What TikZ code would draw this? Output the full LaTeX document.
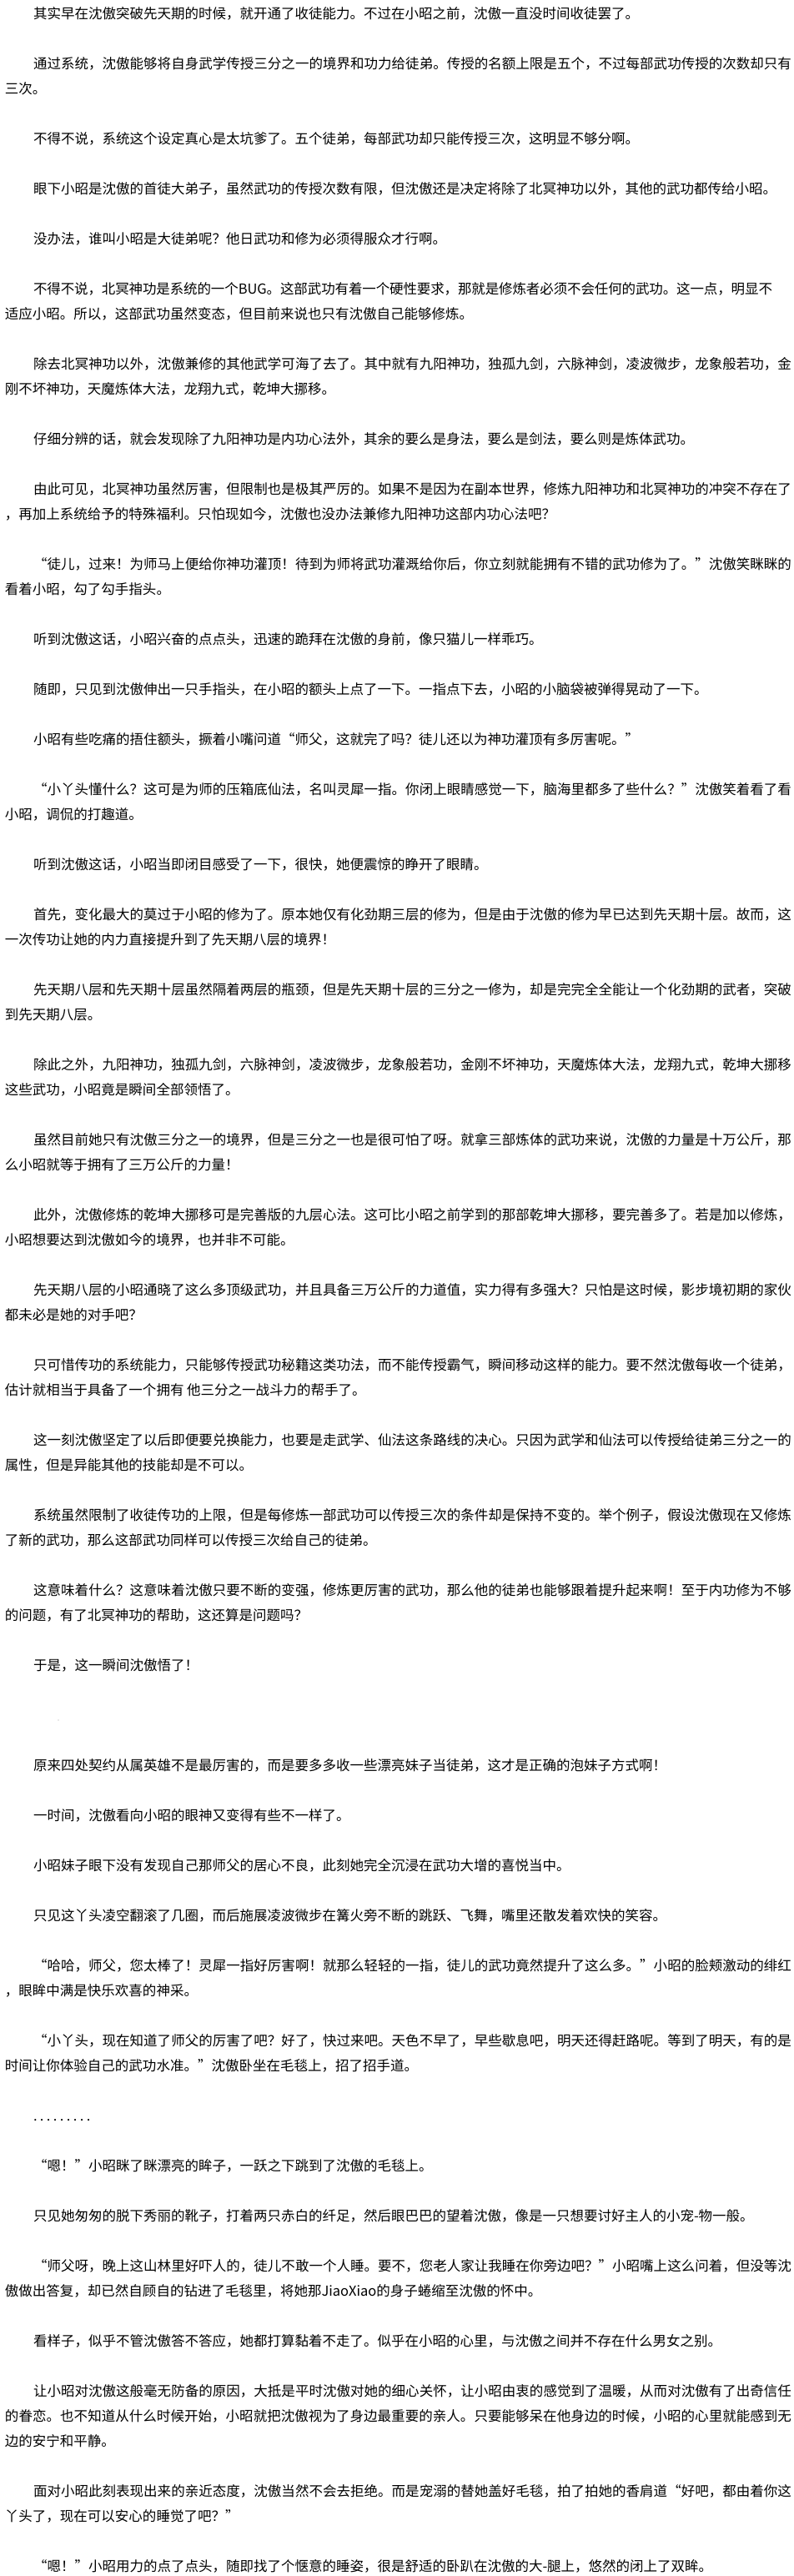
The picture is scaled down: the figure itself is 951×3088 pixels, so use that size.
\documentclass[tikz,border=0pt]{standalone}
\usepackage{fontspec}
\setmainfont{Noto Sans CJK SC}
\newfontfamily\qfont[RawFeature=+fwid]{Noto Sans CJK SC}
\newcommand\oq{{\qfont “}}
\newcommand\cq{{\qfont ”}}
\newcommand\pdot{\makebox[6pt][l]{.}}
\makeatletter
\newcommand\spr[1]{\spr@b#1\relax}
\def\spr@b#1{#1\spr@c}
\def\spr@c#1{\ifx\relax#1\else\hskip0pt plus 1fil minus 0.2pt #1\expandafter\spr@c\fi}
\makeatother
\newcommand\plainln[3]{\node[txt] (l#1) at (#2,{22+30*#1}) {#3};}
\newcommand\justln[4]{\node[txt] (l#1) at (#2,{22+30*#1}) {\hbox to #3{\spr{#4}}};}
\tikzset{txt/.style={anchor=base west, inner sep=0pt, outer sep=0pt, text=black,
  font=\fontsize{12.375pt}{15pt}\selectfont}}
\begin{document}
\begin{tikzpicture}[x=0.75pt,y=-0.75pt]
\useasboundingbox (0,0) rectangle (951,3088);
\fill[white] (0,0) rectangle (951,3088);
\plainln{0}{40}{其实早在沈傲突破先天期的时候，就开通了收徒能力。不过在小昭之前，沈傲一直没时间收徒罢了。}
\justln{2}{40}{681.75pt}{通过系统，沈傲能够将自身武学传授三分之一的境界和功力给徒弟。传授的名额上限是五个，不过每部武功传授的次数却只有}
\plainln{3}{6}{三次。}
\plainln{5}{40}{不得不说，系统这个设定真心是太坑爹了。五个徒弟，每部武功却只能传授三次，这明显不够分啊。}
\plainln{7}{40}{眼下小昭是沈傲的首徒大弟子，虽然武功的传授次数有限，但沈傲还是决定将除了北冥神功以外，其他的武功都传给小昭。}
\plainln{9}{40}{没办法，谁叫小昭是大徒弟呢？他日武功和修为必须得服众才行啊。}
\justln{11}{40}{664.5pt}{不得不说，北冥神功是系统的一个{BUG}。这部武功有着一个硬性要求，那就是修炼者必须不会任何的武功。这一点，明显不}
\plainln{12}{6}{适应小昭。所以，这部武功虽然变态，但目前来说也只有沈傲自己能够修炼。}
\justln{14}{40}{681.75pt}{除去北冥神功以外，沈傲兼修的其他武学可海了去了。其中就有九阳神功，独孤九剑，六脉神剑，凌波微步，龙象般若功，金}
\plainln{15}{6}{刚不坏神功，天魔炼体大法，龙翔九式，乾坤大挪移。}
\plainln{17}{40}{仔细分辨的话，就会发现除了九阳神功是内功心法外，其余的要么是身法，要么是剑法，要么则是炼体武功。}
\justln{19}{40}{681.75pt}{由此可见，北冥神功虽然厉害，但限制也是极其严厉的。如果不是因为在副本世界，修炼九阳神功和北冥神功的冲突不存在了}
\plainln{20}{6}{，再加上系统给予的特殊福利。只怕现如今，沈傲也没办法兼修九阳神功这部内功心法吧？}
\justln{22}{40}{681.75pt}{\oq 徒儿，过来！为师马上便给你神功灌顶！待到为师将武功灌溉给你后，你立刻就能拥有不错的武功修为了。\cq 沈傲笑眯眯的}
\plainln{23}{6}{看着小昭，勾了勾手指头。}
\plainln{25}{40}{听到沈傲这话，小昭兴奋的点点头，迅速的跪拜在沈傲的身前，像只猫儿一样乖巧。}
\plainln{27}{40}{随即，只见到沈傲伸出一只手指头，在小昭的额头上点了一下。一指点下去，小昭的小脑袋被弹得晃动了一下。}
\plainln{29}{40}{小昭有些吃痛的捂住额头，撅着小嘴问道\oq 师父，这就完了吗？徒儿还以为神功灌顶有多厉害呢。\cq}
\justln{31}{40}{681.75pt}{\oq 小丫头懂什么？这可是为师的压箱底仙法，名叫灵犀一指。你闭上眼睛感觉一下，脑海里都多了些什么？\cq 沈傲笑着看了看}
\plainln{32}{6}{小昭，调侃的打趣道。}
\plainln{34}{40}{听到沈傲这话，小昭当即闭目感受了一下，很快，她便震惊的睁开了眼睛。}
\justln{36}{40}{681.75pt}{首先，变化最大的莫过于小昭的修为了。原本她仅有化劲期三层的修为，但是由于沈傲的修为早已达到先天期十层。故而，这}
\plainln{37}{6}{一次传功让她的内力直接提升到了先天期八层的境界！}
\justln{39}{40}{681.75pt}{先天期八层和先天期十层虽然隔着两层的瓶颈，但是先天期十层的三分之一修为，却是完完全全能让一个化劲期的武者，突破}
\plainln{40}{6}{到先天期八层。}
\justln{42}{40}{681.75pt}{除此之外，九阳神功，独孤九剑，六脉神剑，凌波微步，龙象般若功，金刚不坏神功，天魔炼体大法，龙翔九式，乾坤大挪移}
\plainln{43}{6}{这些武功，小昭竟是瞬间全部领悟了。}
\justln{45}{40}{681.75pt}{虽然目前她只有沈傲三分之一的境界，但是三分之一也是很可怕了呀。就拿三部炼体的武功来说，沈傲的力量是十万公斤，那}
\plainln{46}{6}{么小昭就等于拥有了三万公斤的力量！}
\justln{48}{40}{681.75pt}{此外，沈傲修炼的乾坤大挪移可是完善版的九层心法。这可比小昭之前学到的那部乾坤大挪移，要完善多了。若是加以修炼，}
\plainln{49}{6}{小昭想要达到沈傲如今的境界，也并非不可能。}
\justln{51}{40}{681.75pt}{先天期八层的小昭通晓了这么多顶级武功，并且具备三万公斤的力道值，实力得有多强大？只怕是这时候，影步境初期的家伙}
\plainln{52}{6}{都未必是她的对手吧？}
\justln{54}{40}{681.75pt}{只可惜传功的系统能力，只能够传授武功秘籍这类功法，而不能传授霸气，瞬间移动这样的能力。要不然沈傲每收一个徒弟，}
\plainln{55}{6}{估计就相当于具备了一个拥有 他三分之一战斗力的帮手了。}
\justln{57}{40}{681.75pt}{这一刻沈傲坚定了以后即便要兑换能力，也要是走武学、仙法这条路线的决心。只因为武学和仙法可以传授给徒弟三分之一的}
\plainln{58}{6}{属性，但是异能其他的技能却是不可以。}
\justln{60}{40}{681.75pt}{系统虽然限制了收徒传功的上限，但是每修炼一部武功可以传授三次的条件却是保持不变的。举个例子，假设沈傲现在又修炼}
\plainln{61}{6}{了新的武功，那么这部武功同样可以传授三次给自己的徒弟。}
\justln{63}{40}{681.75pt}{这意味着什么？这意味着沈傲只要不断的变强，修炼更厉害的武功，那么他的徒弟也能够跟着提升起来啊！至于内功修为不够}
\plainln{64}{6}{的问题，有了北冥神功的帮助，这还算是问题吗？}
\plainln{66}{40}{于是，这一瞬间沈傲悟了！}
\fill[black!35] (70,2062) circle (0.7);
\plainln{70}{40}{原来四处契约从属英雄不是最厉害的，而是要多多收一些漂亮妹子当徒弟，这才是正确的泡妹子方式啊！}
\plainln{72}{40}{一时间，沈傲看向小昭的眼神又变得有些不一样了。}
\plainln{74}{40}{小昭妹子眼下没有发现自己那师父的居心不良，此刻她完全沉浸在武功大增的喜悦当中。}
\plainln{76}{40}{只见这丫头凌空翻滚了几圈，而后施展凌波微步在篝火旁不断的跳跃、飞舞，嘴里还散发着欢快的笑容。}
\justln{78}{40}{681.75pt}{\oq 哈哈，师父，您太棒了！灵犀一指好厉害啊！就那么轻轻的一指，徒儿的武功竟然提升了这么多。\cq 小昭的脸颊激动的绯红}
\plainln{79}{6}{，眼眸中满是快乐欢喜的神采。}
\justln{81}{40}{681.75pt}{\oq 小丫头，现在知道了师父的厉害了吧？好了，快过来吧。天色不早了，早些歇息吧，明天还得赶路呢。等到了明天，有的是}
\plainln{82}{6}{时间让你体验自己的武功水准。\cq 沈傲卧坐在毛毯上，招了招手道。}
\plainln{84}{40}{\pdot\pdot\pdot\pdot\pdot\pdot\pdot\pdot\pdot}
\plainln{86}{40}{\oq 嗯！\cq 小昭眯了眯漂亮的眸子，一跃之下跳到了沈傲的毛毯上。}
\plainln{88}{40}{只见她匆匆的脱下秀丽的靴子，打着两只赤白的纤足，然后眼巴巴的望着沈傲，像是一只想要讨好主人的小宠-物一般。}
\justln{90}{40}{681.75pt}{\oq 师父呀，晚上这山林里好吓人的，徒儿不敢一个人睡。要不，您老人家让我睡在你旁边吧？\cq 小昭嘴上这么问着，但没等沈}
\plainln{91}{6}{傲做出答复，却已然自顾自的钻进了毛毯里，将她那JiaoXiao的身子蜷缩至沈傲的怀中。}
\plainln{93}{40}{看样子，似乎不管沈傲答不答应，她都打算黏着不走了。似乎在小昭的心里，与沈傲之间并不存在什么男女之别。}
\justln{95}{40}{681.75pt}{让小昭对沈傲这般毫无防备的原因，大抵是平时沈傲对她的细心关怀，让小昭由衷的感觉到了温暖，从而对沈傲有了出奇信任}
\justln{96}{6}{707.25pt}{的眷恋。也不知道从什么时候开始，小昭就把沈傲视为了身边最重要的亲人。只要能够呆在他身边的时候，小昭的心里就能感到无}
\plainln{97}{6}{边的安宁和平静。}
\justln{99}{40}{681.75pt}{面对小昭此刻表现出来的亲近态度，沈傲当然不会去拒绝。而是宠溺的替她盖好毛毯，拍了拍她的香肩道\oq 好吧，都由着你这}
\plainln{100}{6}{丫头了，现在可以安心的睡觉了吧？\cq}
\plainln{102}{40}{\oq 嗯！\cq 小昭用力的点了点头，随即找了个惬意的睡姿，很是舒适的卧趴在沈傲的大-腿上，悠然的闭上了双眸。}
\end{tikzpicture}
\end{document}
